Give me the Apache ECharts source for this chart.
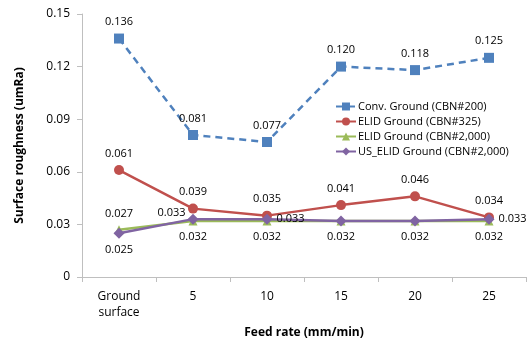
<!DOCTYPE html>
<html>
<head>
<meta charset="utf-8">
<script src="https://cdn.jsdelivr.net/npm/echarts@6/dist/echarts.min.js"></script>
<style>
  html, body { margin: 0; padding: 0; background: #fff; }
  #chart { width: 529px; height: 345px; }
</style>
</head>
<body>
<div id="chart"></div>
<script>
const categories = ['Ground\nsurface', '5', '10', '15', '20', '25'];
const seriesNames = [
  'Conv. Ground (CBN#200)',
  'ELID Ground (CBN#325)',
  'ELID Ground (CBN#2,000)',
  'US_ELID Ground (CBN#2,000)',
];
const convGround = [0.136, 0.081, 0.077, 0.120, 0.118, 0.125];
const elid325 = [0.061, 0.039, 0.035, 0.041, 0.046, 0.034];
const elid2000 = [0.027, 0.032, 0.032, 0.032, 0.032, 0.032];
const usElid2000 = [0.025, 0.033, 0.033, 0.032, 0.032, 0.033];
const yTicks = [0, 0.03, 0.06, 0.09, 0.12, 0.15];

const FONT = 'Open Sans';
const axisGray = '#bfbfbf';

// label positions for the two low series, picked to match the picture
const greenPos = ['top', 'bottom', 'bottom', 'bottom', 'bottom', 'bottom'];
const purplePos = ['bottom', 'left', 'right', null, null, 'right'];

function labelled(values, positions) {
  return values.map((v, i) => {
    const p = positions[i];
    if (!p) return { value: v, label: { show: false } };
    const lab = { show: true, position: p };
    if (p === 'left') { lab.offset = [4, -6]; }
    if (p === 'right') { lab.offset = [-2, 0]; }
    return { value: v, label: lab };
  });
}

const labelStyle = { fontFamily: FONT, fontSize: 11, color: '#000', formatter: (p) => p.value.toFixed(3) };

const chart = echarts.init(document.getElementById('chart'));
chart.setOption({
  animation: false,
  grid: { left: 82, right: 3, top: 14, bottom: 68 },
  legend: {
    orient: 'vertical',
    left: 330,
    top: 96,
    itemGap: 4,
    itemWidth: 20,
    itemHeight: 10,
    textStyle: { fontFamily: FONT, fontSize: 11, color: '#000', padding: [0, 0, 0, -3] },
    data: seriesNames,
  },
  xAxis: {
    type: 'category',
    data: categories,
    boundaryGap: true,
    name: 'Feed rate (mm/min)',
    nameLocation: 'middle',
    nameGap: 50,
    nameTextStyle: { fontFamily: FONT, fontSize: 12, fontWeight: 'bold', color: '#000' },
    axisLine: { lineStyle: { color: axisGray } },
    axisTick: { show: true, length: 5, lineStyle: { color: axisGray } },
    axisLabel: { fontFamily: FONT, fontSize: 12, color: '#000', margin: 12, lineHeight: 16 },
  },
  yAxis: {
    type: 'value',
    min: yTicks[0],
    max: yTicks[yTicks.length - 1],
    interval: 0.03,
    name: 'Surface roughness (umRa)',
    nameLocation: 'middle',
    nameGap: 56,
    nameTextStyle: { fontFamily: FONT, fontSize: 12, fontWeight: 'bold', color: '#000' },
    splitLine: { show: false },
    axisLine: { show: true, lineStyle: { color: axisGray } },
    axisTick: { show: true, length: 5, lineStyle: { color: axisGray } },
    axisLabel: {
      fontFamily: FONT, fontSize: 12, color: '#000', margin: 12,
      formatter: (v) => (v === 0 ? '0' : String(Number(v.toFixed(2)))),
    },
  },
  series: [
    {
      name: seriesNames[0],
      type: 'line',
      data: convGround,
      symbol: 'rect',
      symbolSize: 10,
      color: '#4f81bd',
      lineStyle: { width: 2.5, type: [7, 5] },
      label: Object.assign({ show: true, position: 'top', distance: 6 }, labelStyle),
      z: 4,
    },
    {
      name: seriesNames[1],
      type: 'line',
      data: elid325,
      symbol: 'circle',
      symbolSize: 10,
      color: '#c0504d',
      lineStyle: { width: 2.5 },
      label: Object.assign({ show: true, position: 'top', distance: 6 }, labelStyle),
      z: 3,
    },
    {
      name: seriesNames[2],
      type: 'line',
      data: labelled(elid2000, greenPos),
      symbol: 'triangle',
      symbolSize: 9,
      color: '#9bbb59',
      lineStyle: { width: 2.5 },
      label: Object.assign({ show: true, distance: 6 }, labelStyle),
      z: 2,
    },
    {
      name: seriesNames[3],
      type: 'line',
      data: labelled(usElid2000, purplePos),
      symbol: 'diamond',
      symbolSize: 11,
      color: '#8064a2',
      lineStyle: { width: 2.5 },
      label: Object.assign({ show: true, distance: 6 }, labelStyle),
      z: 5,
    },
  ],
});
</script>
</body>
</html>
